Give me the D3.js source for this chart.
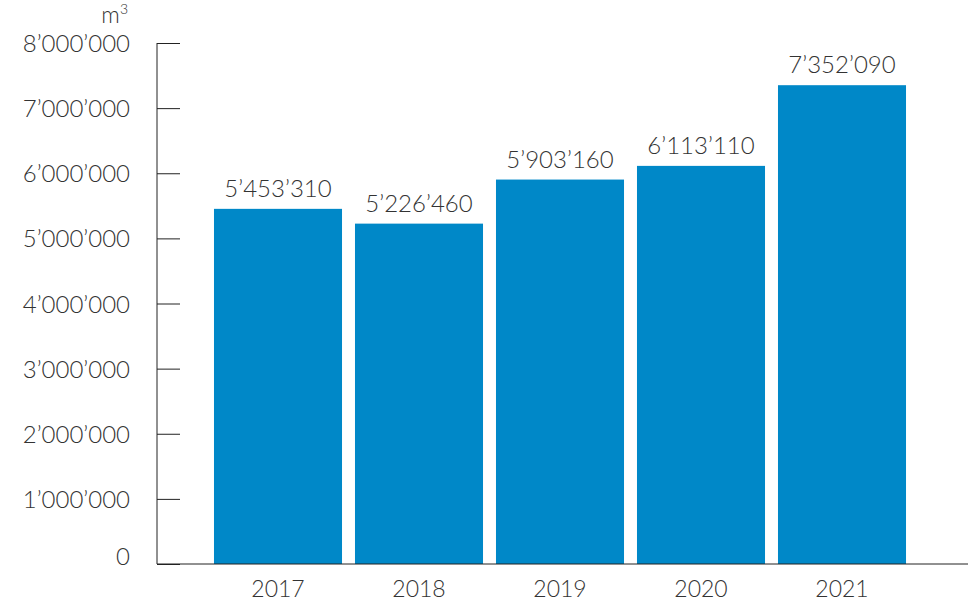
<!DOCTYPE html>
<html>
<head>
<meta charset="utf-8">
<script src="https://cdn.jsdelivr.net/npm/d3@7"></script>
<style>
  html,body{margin:0;padding:0;background:#fff;}
  svg text{font-family:Lato,"Open Sans",sans-serif;fill:#333;}
</style>
</head>
<body>
<div id="chart"></div>
<script>
const years = ['2017','2018','2019','2020','2021'];
const volumes = [5453310, 5226460, 5903160, 6113110, 7352090];
const yTicks = [0,1000000,2000000,3000000,4000000,5000000,6000000,7000000,8000000];
const unitLabel = 'm';

(function(){
  const W = 971, H = 606;
  const x0 = 157, yBase = 564, yTop = 43, xEnd = 968;
  const loc = d3.formatLocale({decimal:'.', thousands:'\u2019', grouping:[3], currency:['','']});
  const fmt = loc.format(',d');

  const svg = d3.select('#chart').append('svg').attr('width',W).attr('height',H);

  const y = d3.scaleLinear().domain([0,8000000]).range([yBase,yTop]);
  const x = d3.scaleBand().domain(years).range([207.5,912.5]).paddingInner(0.092).paddingOuter(0.046);

  // bars
  svg.append('g').selectAll('rect').data(years).join('rect')
    .attr('x',d=>x(d)).attr('width',x.bandwidth())
    .attr('y',(d,i)=>y(volumes[i])).attr('height',(d,i)=>yBase-y(volumes[i]))
    .attr('fill','#0088c8');

  // value labels
  svg.append('g').selectAll('text').data(years).join('text')
    .attr('x',d=>x(d)+x.bandwidth()/2).attr('y',(d,i)=>y(volumes[i])-12)
    .attr('text-anchor','middle').style('font-size','24px').style('font-weight','300')
    .text((d,i)=>fmt(volumes[i]));

  // y axis
  const ya = svg.append('g').attr('transform',`translate(${x0},0)`)
    .call(d3.axisRight(y).tickValues(yTicks).tickSize(23).tickFormat(''));
  ya.select('.domain').remove();
  ya.selectAll('line').attr('stroke','#222');
  svg.append('line').attr('x1',x0).attr('x2',x0).attr('y1',yTop).attr('y2',yBase).attr('stroke','#222');
  svg.append('g').selectAll('text').data(yTicks).join('text')
    .attr('x',130).attr('y',d=>y(d)+(d===0?1:9)).attr('text-anchor','end')
    .style('font-size','24px').style('font-weight','300')
    .text(d=>fmt(d));

  // x axis
  svg.append('line').attr('x1',x0).attr('x2',xEnd).attr('y1',yBase).attr('y2',yBase).attr('stroke','#222');
  svg.append('g').selectAll('text').data(years).join('text')
    .attr('x',d=>x(d)+x.bandwidth()/2).attr('y',597)
    .attr('text-anchor','middle').style('font-size','23px').style('font-weight','300')
    .text(d=>d);

  // unit
  const u = svg.append('text').attr('x',128).attr('y',23).attr('text-anchor','end')
    .style('font-size','23px').style('font-weight','300');
  u.append('tspan').text(unitLabel);
  u.append('tspan').attr('dy',-9).style('font-size','14px').text('3');
})();
</script>
</body>
</html>
